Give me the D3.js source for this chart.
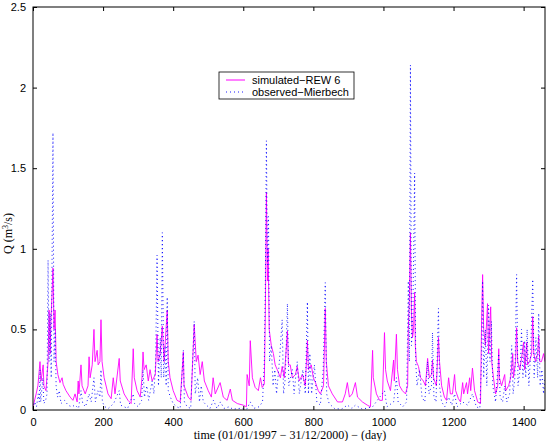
<!DOCTYPE html>
<html>
<head>
<meta charset="utf-8">
<script src="https://cdn.jsdelivr.net/npm/d3@7"></script>
<style>
  body { margin: 0; background: #fff; }
  .tick text { font-family: "Liberation Sans", Arial, sans-serif; font-size: 11px; fill: #000; }
</style>
</head>
<body>
<div id="chart"></div>
<script>
// data (day, discharge m3/s)
var simDay = [0,9,14,20,23,29,31,37,43,46,49,51,54,57,60,63,66,71,77,83,86,94,106,114,120,126,129,131,137,140,149,157,160,163,169,174,177,183,186,191,194,197,203,214,223,229,234,246,249,260,271,280,286,289,297,306,311,314,317,323,329,334,340,349,354,357,363,369,374,383,386,391,400,411,420,429,431,443,451,460,466,471,477,483,489,500,509,514,520,534,543,554,563,569,583,600,609,611,617,620,626,634,643,649,654,660,663,666,669,671,674,680,686,691,697,706,711,717,726,729,734,740,749,754,760,769,777,783,786,794,800,806,814,820,829,834,837,843,854,869,883,891,897,903,911,920,926,940,954,963,969,971,980,989,997,1003,1006,1011,1020,1029,1031,1037,1040,1046,1054,1063,1069,1071,1074,1077,1080,1083,1086,1089,1091,1094,1100,1106,1114,1120,1126,1131,1137,1140,1143,1151,1157,1160,1166,1174,1180,1186,1191,1197,1203,1206,1214,1220,1226,1229,1237,1240,1246,1249,1254,1260,1269,1277,1280,1283,1286,1291,1297,1300,1306,1309,1314,1320,1326,1329,1331,1337,1346,1349,1357,1363,1369,1371,1377,1380,1383,1389,1394,1400,1403,1409,1411,1417,1423,1426,1429,1434,1440,1443,1446,1451,1457,1461];
var simQ = [0.02,0.1,0.15,0.3,0.18,0.28,0.15,0.12,0.3,0.62,0.35,0.55,0.7,0.88,0.5,0.62,0.3,0.22,0.17,0.2,0.16,0.12,0.08,0.06,0.1,0.05,0.18,0.1,0.28,0.15,0.1,0.15,0.33,0.2,0.28,0.5,0.3,0.37,0.28,0.3,0.56,0.3,0.2,0.1,0.07,0.2,0.1,0.32,0.18,0.1,0.06,0.04,0.38,0.2,0.12,0.08,0.2,0.36,0.25,0.28,0.18,0.25,0.18,0.22,0.47,0.3,0.35,0.52,0.3,0.62,0.3,0.2,0.12,0.06,0.05,0.36,0.15,0.08,0.06,0.53,0.3,0.34,0.22,0.3,0.18,0.12,0.08,0.2,0.1,0.17,0.08,0.06,0.13,0.06,0.04,0.03,0.02,0.22,0.15,0.43,0.2,0.14,0.12,0.2,0.14,0.16,0.6,1.35,0.8,1.0,0.5,0.4,0.35,0.28,0.25,0.2,0.27,0.2,0.49,0.28,0.28,0.2,0.22,0.27,0.18,0.22,0.15,0.43,0.25,0.28,0.2,0.17,0.12,0.1,0.15,0.63,0.3,0.15,0.1,0.05,0.05,0.1,0.17,0.08,0.1,0.17,0.08,0.05,0.03,0.02,0.37,0.2,0.1,0.06,0.06,0.48,0.25,0.18,0.12,0.31,0.18,0.47,0.25,0.15,0.12,0.1,0.15,0.5,0.7,1.1,0.6,0.45,0.5,0.73,0.4,0.3,0.27,0.2,0.18,0.15,0.32,0.2,0.22,0.31,0.2,0.15,0.45,0.3,0.15,0.08,0.06,0.2,0.1,0.1,0.22,0.12,0.07,0.05,0.17,0.1,0.17,0.1,0.2,0.12,0.26,0.12,0.05,0.04,0.54,0.84,0.5,0.4,0.66,0.35,0.64,0.3,0.2,0.1,0.15,0.38,0.2,0.15,0.22,0.12,0.15,0.2,0.35,0.2,0.3,0.51,0.3,0.25,0.32,0.42,0.25,0.42,0.28,0.3,0.35,0.58,0.35,0.3,0.35,0.46,0.3,0.3,0.35,0.3];

var obsDay = [0,5,10,15,18,20,22,28,31,36,40,43,46,49,52,57,60,63,66,70,75,80,90,100,110,120,130,137,142,150,160,166,174,178,185,191,194,198,205,215,230,246,250,270,286,290,300,310,314,318,325,330,340,345,350,354,358,363,366,369,373,377,380,383,386,392,400,410,420,429,432,440,450,460,463,470,475,480,486,495,505,515,525,535,545,560,570,590,610,620,630,645,655,660,663,666,669,672,675,680,685,690,695,703,711,715,720,726,730,740,745,754,760,770,777,783,786,790,795,803,810,820,828,834,838,845,860,880,897,910,920,940,969,1003,1010,1029,1037,1042,1055,1066,1071,1074,1077,1080,1084,1089,1092,1096,1103,1110,1118,1126,1130,1137,1140,1144,1150,1157,1160,1166,1175,1186,1195,1203,1210,1226,1240,1254,1265,1275,1280,1283,1286,1291,1295,1300,1304,1308,1312,1320,1329,1333,1340,1346,1352,1360,1366,1370,1375,1380,1384,1390,1394,1398,1403,1406,1410,1415,1420,1426,1430,1435,1440,1443,1447,1452,1457,1461];
var obsQ = [0.01,0.05,0.02,0.1,0.05,0.25,0.05,0.2,0.04,0.06,0.1,0.93,0.3,0.6,0.2,1.72,0.3,0.5,0.15,0.08,0.12,0.04,0.06,0.03,0.02,0.03,0.01,0.12,0.04,0.02,0.1,0.05,0.2,0.05,0.12,0.08,0.25,0.05,0.02,0.01,0.04,0.12,0.03,0.01,0.1,0.04,0.02,0.06,0.25,0.08,0.15,0.06,0.18,0.1,0.3,0.96,0.15,0.45,0.2,1.1,0.2,0.4,0.15,0.7,0.12,0.08,0.04,0.02,0.01,0.37,0.05,0.02,0.01,0.55,0.1,0.2,0.05,0.15,0.05,0.03,0.01,0.06,0.01,0.05,0.01,0.02,0.005,0.01,0.005,0.05,0.01,0.02,0.05,0.3,0.8,1.67,0.9,1.2,0.3,0.4,0.15,0.25,0.1,0.3,0.56,0.1,0.2,0.66,0.15,0.25,0.1,0.3,0.1,0.25,0.1,0.67,0.1,0.35,0.1,0.28,0.05,0.03,0.25,0.79,0.1,0.04,0.01,0.005,0.03,0.01,0.03,0.005,0.02,0.12,0.02,0.05,0.2,0.05,0.02,0.05,0.8,0.3,2.14,0.4,0.6,1.47,0.3,0.15,0.25,0.08,0.05,0.3,0.1,0.15,0.48,0.08,0.05,0.63,0.15,0.05,0.02,0.08,0.03,0.1,0.02,0.05,0.03,0.1,0.02,0.01,0.3,0.8,0.2,0.5,0.15,0.65,0.3,0.55,0.15,0.05,0.35,0.08,0.05,0.15,0.05,0.1,0.4,0.1,0.2,0.84,0.15,0.25,0.5,0.2,0.43,0.2,0.5,0.15,0.35,0.81,0.2,0.45,0.2,0.6,0.15,0.25,0.1,0.2];

var xTicks = [0, 200, 400, 600, 800, 1000, 1200, 1400];
var yTicks = [0, 0.5, 1, 1.5, 2, 2.5];

var margin = {top: 7, right: 2, bottom: 31, left: 33},
    width = 547 - margin.left - margin.right,
    height = 441 - margin.top - margin.bottom;

var svg = d3.select("#chart")
  .append("svg")
  .attr("width", 547)
  .attr("height", 441)
  .append("g")
  .attr("transform", "translate(" + margin.left + "," + margin.top + ")");

var x = d3.scaleLinear().domain([0, 1461]).range([0, width]);
var y = d3.scaleLinear().domain([0, 2.5]).range([height, 0]);

svg.append("clipPath").attr("id", "clip")
  .append("rect").attr("width", width).attr("height", height);

var sim = simDay.map(function(d, i) { return [d, simQ[i]]; });
var obs = obsDay.map(function(d, i) { return [d, obsQ[i]]; });

var line = d3.line()
  .x(function(d) { return x(d[0]); })
  .y(function(d) { return y(d[1]); });

var plot = svg.append("g").attr("clip-path", "url(#clip)");

plot.append("path")
  .datum(sim)
  .attr("fill", "none")
  .attr("stroke", "#ff00ff")
  .attr("stroke-width", 0.9)
  .attr("d", line);

plot.append("path")
  .datum(obs)
  .attr("fill", "none")
  .attr("stroke", "#0000ff")
  .attr("stroke-width", 0.9)
  .attr("stroke-dasharray", "1,3")
  .attr("d", line);

// axes, matlab style: ticks inside on every side
svg.append("g")
  .attr("transform", "translate(0," + height + ")")
  .call(d3.axisBottom(x).tickValues(xTicks).tickSizeInner(-4).tickSizeOuter(0).tickPadding(8).tickFormat(d3.format("d")))
  .call(function(g) { g.select(".domain").remove(); });
svg.append("g")
  .call(d3.axisTop(x).tickValues(xTicks).tickSizeInner(-4).tickSizeOuter(0).tickFormat(""))
  .call(function(g) { g.select(".domain").remove(); });
svg.append("g")
  .call(d3.axisLeft(y).tickValues(yTicks).tickSizeInner(-4).tickSizeOuter(0).tickPadding(7).tickFormat(d3.format("")))
  .call(function(g) { g.select(".domain").remove(); });
svg.append("g")
  .attr("transform", "translate(" + width + ",0)")
  .call(d3.axisRight(y).tickValues(yTicks).tickSizeInner(-4).tickSizeOuter(0).tickFormat(""))
  .call(function(g) { g.select(".domain").remove(); });

svg.append("rect")
  .attr("width", width).attr("height", height)
  .attr("fill", "none").attr("stroke", "#000").attr("stroke-width", 1);

// axis labels
svg.append("text")
  .attr("x", 257).attr("y", height + 29)
  .attr("text-anchor", "middle")
  .style("font-family", "'Liberation Serif', 'Times New Roman', serif")
  .style("font-size", "12px")
  .text("time (01/01/1997 \u2212 31/12/2000) \u2212 (day)");

var yl = svg.append("text")
  .attr("transform", "translate(-21," + (height / 2 + 25) + ") rotate(-90)")
  .attr("text-anchor", "middle")
  .style("font-family", "'Liberation Serif', 'Times New Roman', serif")
  .style("font-size", "12px");
yl.append("tspan").text("Q (m");
yl.append("tspan").attr("dy", -4).style("font-size", "8px").text("3");
yl.append("tspan").attr("dy", 4).text("/s)");

// legend
var lg = svg.append("g").attr("transform", "translate(" + (219 - margin.left) + "," + (72 - margin.top) + ")");
lg.append("rect").attr("width", 135).attr("height", 27)
  .attr("fill", "#fff").attr("stroke", "#000").attr("stroke-width", 0.8);
lg.append("line").attr("x1", 7).attr("x2", 26).attr("y1", 8).attr("y2", 8)
  .attr("stroke", "#ff00ff").attr("stroke-width", 1);
lg.append("line").attr("x1", 7).attr("x2", 26).attr("y1", 20).attr("y2", 20)
  .attr("stroke", "#0000ff").attr("stroke-width", 0.9).attr("stroke-dasharray", "1,3");
lg.append("text").attr("x", 33).attr("y", 11.5)
  .style("font-family", "'Liberation Sans', Arial, sans-serif").style("font-size", "11px")
  .text("simulated\u2212REW 6");
lg.append("text").attr("x", 33).attr("y", 24)
  .style("font-family", "'Liberation Sans', Arial, sans-serif").style("font-size", "11px")
  .text("observed\u2212Mierbech");
</script>
</body>
</html>
